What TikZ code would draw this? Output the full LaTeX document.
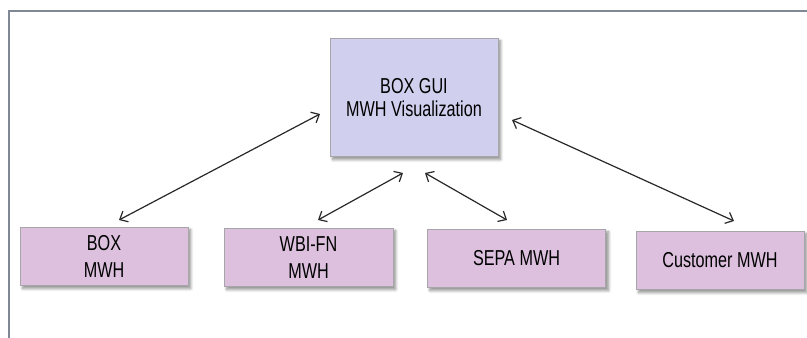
\documentclass[tikz,border=0pt]{standalone}
\usepackage{fontspec}
\setmainfont{Liberation Sans}
\newfontfamily\labelfont[FakeStretch=0.75]{Liberation Sans}
\usetikzlibrary{arrows.meta,shadows.blur}

\definecolor{guifill}{RGB}{208,208,238}
\definecolor{whfill}{RGB}{220,192,222}
\definecolor{boxline}{RGB}{165,165,170}
\definecolor{frameclr}{RGB}{128,136,150}
\definecolor{linkclr}{RGB}{40,40,40}

\begin{document}
\begin{tikzpicture}[x=0.75pt,y=-0.75pt,
  frameline/.style={draw=frameclr,line width=1.1pt},
  boxbase/.style={draw=boxline,line width=0.6pt,inner sep=0pt,align=center,
    blur shadow={shadow xshift=2pt,shadow yshift=-2pt,shadow blur steps=6,shadow opacity=45}},
  guibox/.style={boxbase,fill=guifill,minimum width=126pt,minimum height=89pt,
    font=\labelfont\fontsize{16.2}{17.7}\selectfont},
  whbox/.style={boxbase,fill=whfill,minimum height=44pt,
    font=\labelfont\fontsize{16.2}{20.8}\selectfont},
  link/.style={{Straight Barb[length=5pt,width=9pt]}-{Straight Barb[length=5pt,width=9pt]},
    draw=linkclr,line width=0.9pt}]
\useasboundingbox (0,0) rectangle (807,338);

% page frame
\draw[frameline] (9,338) -- (9,11) -- (807,11);

% central visualization box
\node[guibox] (gui) at (414,97.5) {BOX GUI\\MWH Visualization};

% warehouse boxes
\node[whbox,minimum width=126pt]   (box)  at (104,256.5)  {BOX\\MWH};
\node[whbox,minimum width=126.8pt] (wbi)  at (308.5,257.5) {WBI-FN\\MWH};
\node[whbox,minimum width=134pt]   (sepa) at (516.5,258.5) {SEPA MWH};
\node[whbox,minimum width=126pt]   (cust) at (720,260.5)  {Customer MWH};

% connector ends
\coordinate (boxend)  at (119,220);
\coordinate (guiA)    at (320,114);
\coordinate (wbiend)  at (318,220);
\coordinate (guiB)    at (403,173);
\coordinate (guiC)    at (425,173);
\coordinate (sepaend) at (507,220);
\coordinate (guiD)    at (512,120);
\coordinate (custend) at (734,221);

% two-way links
\draw[link] (boxend)  -- (guiA);
\draw[link] (wbiend)  -- (guiB);
\draw[link] (guiC)    -- (sepaend);
\draw[link] (guiD)    -- (custend);
\end{tikzpicture}
\end{document}
